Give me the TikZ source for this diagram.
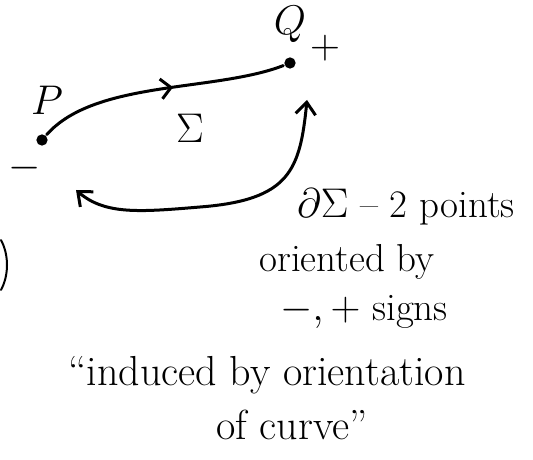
\documentclass[tikz,border=0pt]{standalone}
\usepackage{amsmath,amssymb}
\usetikzlibrary{arrows.meta, positioning, decorations.markings}

\begin{document}
\begin{tikzpicture}[x=0.5pt, y=-0.5pt, font=\fontsize{19.5}{22}\selectfont, line width=1.5pt, line cap=round,
    endpt/.style={circle, fill, inner sep=2pt},
    hand/.style={inner sep=0pt},
    big/.style={inner sep=0pt, font=\fontsize{22}{26}\selectfont},
    midtip/.style={postaction={decorate}, decoration={markings, mark=at position 0.55 with {\arrow{Straight Barb[length=5pt, width=10pt]}}}},
    bothtips/.style={{Straight Barb[length=6pt, width=10pt]}-{Straight Barb[length=6pt, width=10pt]}}]
  \useasboundingbox (0,0) rectangle (533,459);
  % the curve and its end points
  \node[endpt] (p) at (42,140) {};
  \node[endpt] (q) at (290,63) {};
  \node[big] (plbl) at (47,100) {$P$};
  \node[big] (minus) at (25,168) {$-$};
  \node[big] (qlbl) at (290,24) {$Q$};
  \node[big] (plus) at (325,48) {$+$};
  \node[big] (sig) at (190,128) {$\Sigma$};
  \draw[midtip] (p) .. controls (95,80) and (215,92) .. (q);
  % boundary arrow
  \coordinate (bstart) at (76,190);
  \coordinate (bend) at (307,100);
  \draw[bothtips] (bstart) .. controls (105,215) and (140,212) .. (200,207)
    .. controls (290,200) and (300,170) .. (bend);
  \draw[line width=1pt] (1,240) .. controls (9,255) and (9,275) .. (1,290);
  % notes
  \node[hand] (bd) at (406,207) {$\partial\Sigma$ -- 2 points};
  \node[hand] (ori) at (347,262) {oriented by};
  \node[hand] (sgn) at (364,312) {$-,+$ signs};
  \node[hand, font=\fontsize{21}{24}\selectfont] (ind) at (267,375) {``induced by orientation};
  \node[hand, font=\fontsize{21}{24}\selectfont] (cur) at (292,425) {of curve''};
\end{tikzpicture}
\end{document}
